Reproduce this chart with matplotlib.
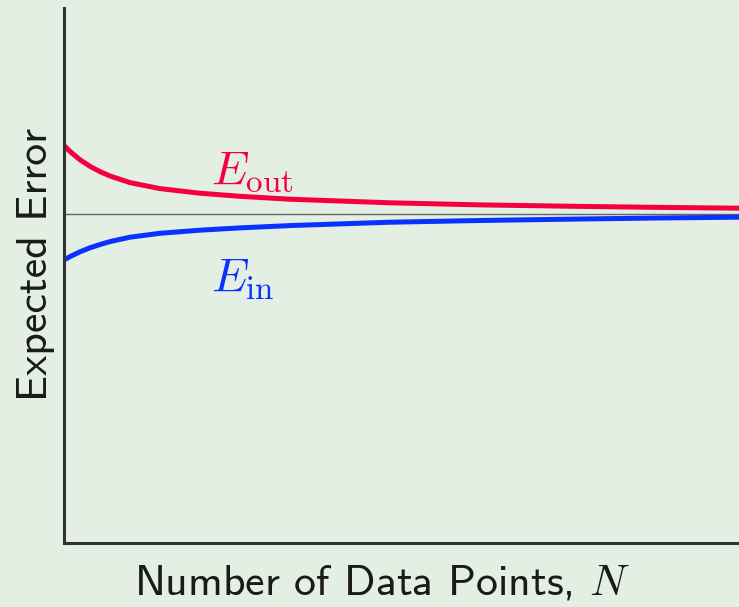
import numpy as np
import matplotlib.pyplot as plt

plt.rcParams['mathtext.fontset'] = 'cm'
plt.rcParams['axes.unicode_minus'] = False

# valores (unidades arbitrarias)
N = [0, 0.89, 2.37, 3.85, 5.33, 6.81, 9.78, 14.22, 20.15, 26.07, 33.48, 48.30, 61.63, 76.44, 88.30, 100]
E_out = [7.430, 7.318, 7.163, 7.041, 6.942, 6.860, 6.736, 6.624, 6.538, 6.480,
         6.426, 6.359, 6.320, 6.292, 6.273, 6.258]
E_in = [5.290, 5.353, 5.443, 5.518, 5.579, 5.634, 5.716, 5.789, 5.847, 5.890,
        5.933, 5.996, 6.028, 6.056, 6.075, 6.090]
asintota = 6.15

bg = '#e2efe2'
fig = plt.figure(figsize=(7.39, 6.07), dpi=100, facecolor=bg)
ax = fig.add_axes([64/739, 64/607, 675/739, 535/607])
ax.set_facecolor(bg)

ax.plot(N, E_out, color='#f5003c', lw=3.6, solid_capstyle='butt', solid_joinstyle='round')
ax.plot(N, E_in, color='#0a32ff', lw=3.6, solid_capstyle='butt', solid_joinstyle='round')
ax.axhline(asintota, color='#666666', lw=1.0, zorder=1)

ax.set_xlim(0, 100)
ax.set_ylim(0, 10)

for s in ['top', 'right']:
    ax.spines[s].set_visible(False)
for s in ['left', 'bottom']:
    ax.spines[s].set_linewidth(2.2)
    ax.spines[s].set_color('#333333')
ax.set_xticks([])
ax.set_yticks([])

ax.text(21.8, 6.72, r'$E_{\rm out}$', color='#f5003c', fontsize=34)
ax.text(21.8, 4.7, r'$E_{\rm in}$', color='#0a32ff', fontsize=34)

ax.set_xlabel(r'Number of Data Points, $N$', fontsize=31.5, family='cmss10', color='#1a1a1a')
ax.set_ylabel('Expected Error', fontsize=31.5, family='cmss10', color='#1a1a1a')
ax.xaxis.set_label_coords(0.471, -0.038, transform=ax.transAxes)
ax.xaxis.label.set_va('top')
ax.yaxis.set_label_coords(-0.014, 0.52, transform=ax.transAxes)

plt.savefig('out.png', dpi=100, facecolor=bg)
